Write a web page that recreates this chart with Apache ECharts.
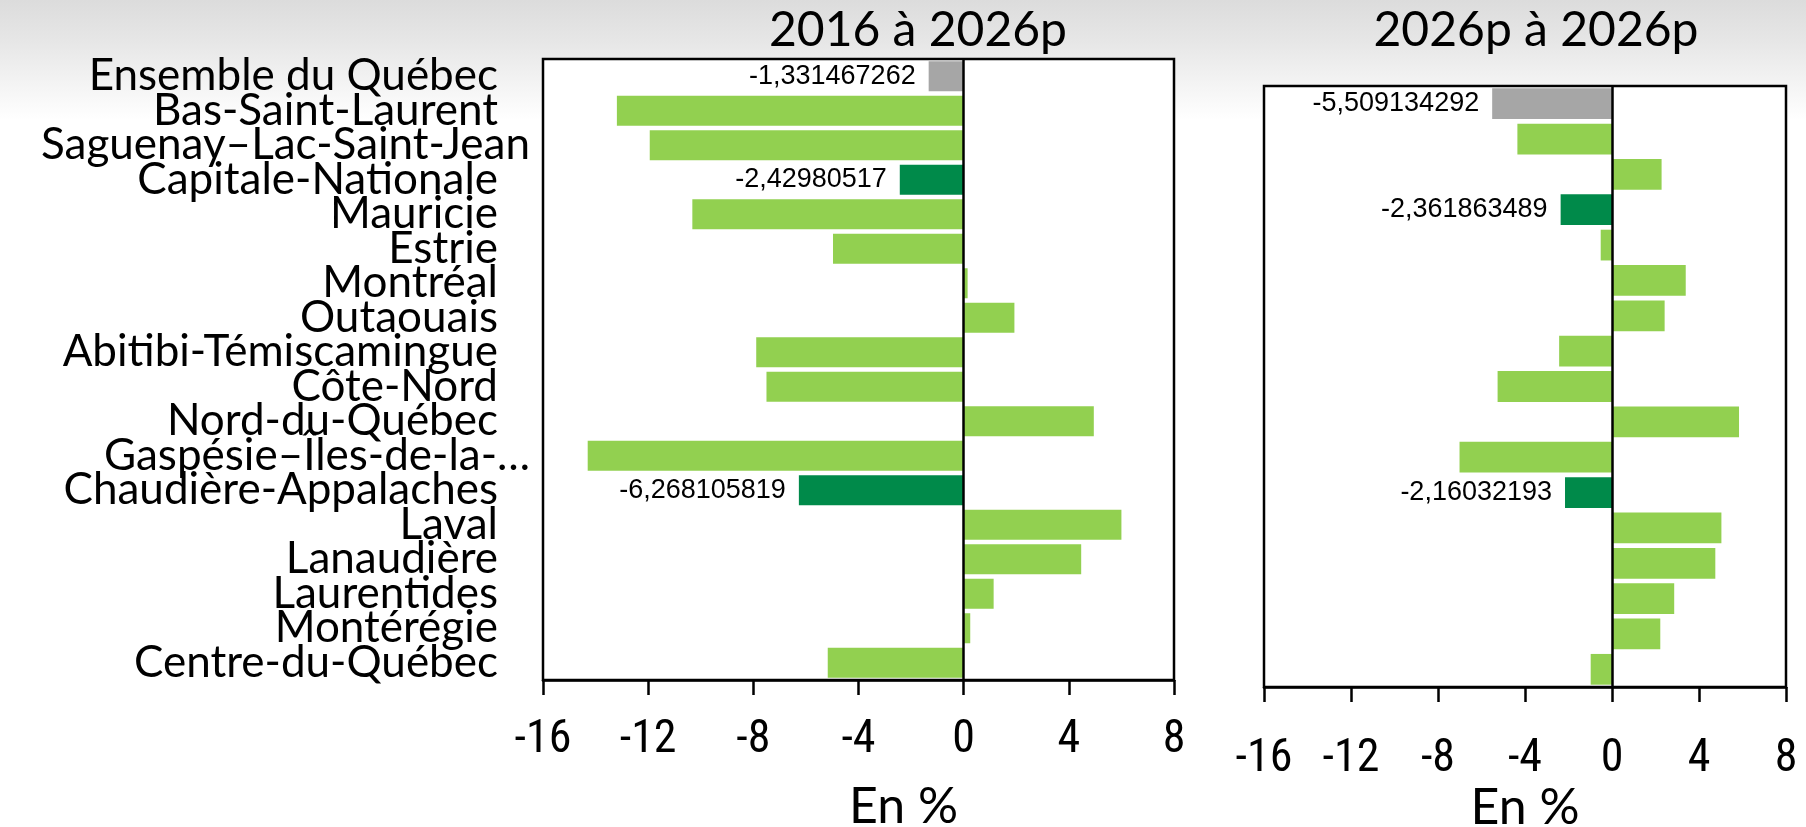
<!DOCTYPE html>
<html><head><meta charset="utf-8">
<script src="https://cdn.jsdelivr.net/npm/echarts@6/dist/echarts.min.js"></script>
<style>
html,body{margin:0;padding:0;width:1806px;height:827px;overflow:hidden;
background:linear-gradient(to bottom,#dcdcdc 0px,#e6e6e6 40px,#f4f4f4 85px,#ffffff 120px);}
#c{width:1806px;height:827px;}
</style></head><body><div id="c"></div>
<script>
// ---- data ----
const regions = ['Ensemble du Québec','Bas-Saint-Laurent','Saguenay–Lac-Saint-Jean','Capitale-Nationale','Mauricie','Estrie','Montréal','Outaouais','Abitibi-Témiscamingue','Côte-Nord','Nord-du-Québec','Gaspésie–Îles-de-la-…','Chaudière-Appalaches','Laval','Lanaudière','Laurentides','Montérégie','Centre-du-Québec'];
const change2016to2026 = [-1.331467262,-13.19,-11.94,-2.42980517,-10.32,-4.97,0.15,1.93,-7.89,-7.5,4.95,-14.3,-6.268105819,6.0,4.47,1.14,0.25,-5.17];
const regions2026 = ['Ensemble du Québec','Bas-Saint-Laurent','Saguenay–Lac-Saint-Jean','Capitale-Nationale','Mauricie','Estrie','Montréal','Outaouais','Abitibi-Témiscamingue','Côte-Nord','Gaspésie–Îles-de-la-…','Chaudière-Appalaches','Laval','Lanaudière','Laurentides','Montérégie','Centre-du-Québec'];
const change2026to2026 = [-5.509134292,-4.35,2.28,-2.361863489,-0.52,3.39,2.42,-2.43,-5.26,5.84,-7.01,-2.16032193,5.03,4.75,2.86,2.22,-0.98];
const titles = ['2016 à 2026p','2026p à 2026p'];
const axisTitle = 'En %';
const totalRegion = 'Ensemble du Québec';
const highlighted = ['Capitale-Nationale','Chaudière-Appalaches'];
const longLabels = ['Saguenay–Lac-Saint-Jean','Gaspésie–Îles-de-la-…'];
const xMin = -16, xMax = 8, xStep = 4;

// ---- styles ----
const C_LIGHT = '#92D050', C_DARK = '#008A4A', C_GRAY = '#A6A6A6';
const tickFont = "'Liberation Sans Narrow','Roboto Condensed',Lato";
const fmt = v => String(v).replace('.', ',');

function buildData(cats, vals) {
  return vals.map((v, i) => {
    const name = cats[i];
    let color = C_LIGHT, lab = false;
    if (name === totalRegion) { color = C_GRAY; lab = true; }
    else if (highlighted.includes(name)) { color = C_DARK; lab = true; }
    return {
      value: v,
      itemStyle: { color },
      label: { show: lab, position: 'left', distance: 13, formatter: p => fmt(p.value),
               fontFamily: "'Liberation Sans',Arial", fontSize: 27, color: '#000' }
    };
  });
}

function valueAxis(gridIndex, margin, nameGap, namePad) {
  return {
    type: 'value', gridIndex, min: xMin, max: xMax, interval: xStep,
    name: axisTitle, nameLocation: 'middle', nameGap, nameMoveOverlap: false,
    nameTextStyle: { fontFamily: 'Lato', fontSize: 50, color: '#000', padding: namePad },
    axisLine: { show: true, onZero: false, lineStyle: { color: '#000', width: 2.5 } },
    axisTick: { show: true, length: 15, lineStyle: { color: '#000', width: 2.5 } },
    splitLine: { show: false },
    axisLabel: { fontFamily: tickFont, fontSize: 46, color: '#000', margin }
  };
}

const zeroLine = {
  silent: true, symbol: ['none','none'], label: { show: false },
  lineStyle: { color: '#000', width: 2.5, type: 'solid' },
  data: [{ xAxis: 0 }]
};

const chart = echarts.init(document.getElementById('c'), null, { renderer: 'canvas' });
chart.setOption({
  animation: false,
  backgroundColor: 'transparent',
  title: [
    { text: titles[0], left: 913, top: 2, textAlign: 'center',
      textStyle: { fontFamily: 'Lato', fontSize: 48, fontWeight: 'normal', color: '#000' } },
    { text: titles[1], left: 1531, top: 2, textAlign: 'center',
      textStyle: { fontFamily: 'Lato', fontSize: 48, fontWeight: 'normal', color: '#000' } }
  ],
  grid: [
    { left: 543, top: 59, width: 631, height: 621, show: true, backgroundColor: '#fff',
      borderColor: '#000', borderWidth: 2.5, containLabel: false, outerBoundsMode: 'none' },
    { left: 1264, top: 86, width: 522, height: 601, show: true, backgroundColor: '#fff',
      borderColor: '#000', borderWidth: 2.5, containLabel: false, outerBoundsMode: 'none' }
  ],
  xAxis: [ valueAxis(0, 37, 102, [0,0,0,90]), valueAxis(1, 49, 96, 0) ],
  yAxis: [
    { type: 'category', gridIndex: 0, data: regions, inverse: true,
      axisLine: { show: false }, axisTick: { show: false },
      axisLabel: { interval: 0, margin: 13, color: '#000', fontFamily: 'Lato', fontSize: 44,
        formatter: v => longLabels.includes(v) ? '{l|' + v + '}' : '{s|' + v + '}',
        rich: { s: { fontFamily: 'Lato', fontSize: 44, color: '#000', padding: [0, 32, 0, 0] },
                l: { fontFamily: 'Lato', fontSize: 44, color: '#000' } } } },
    { type: 'category', gridIndex: 1, data: regions2026, inverse: true,
      axisLine: { show: false }, axisTick: { show: false }, axisLabel: { show: false } }
  ],
  series: [
    { type: 'bar', xAxisIndex: 0, yAxisIndex: 0, barCategoryGap: '13%',
      data: buildData(regions, change2016to2026), markLine: zeroLine },
    { type: 'bar', xAxisIndex: 1, yAxisIndex: 1, barCategoryGap: '13%',
      data: buildData(regions2026, change2026to2026), markLine: zeroLine }
  ]
});
</script></body></html>
